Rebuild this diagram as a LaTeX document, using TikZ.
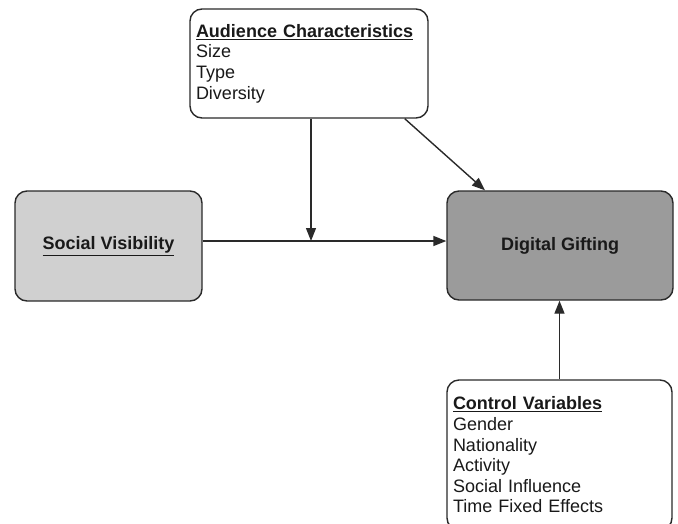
\documentclass[tikz,border=0pt]{standalone}
\usepackage{fontspec}
\setmainfont{Liberation Sans}
\usetikzlibrary{arrows.meta,calc}
\definecolor{edge}{HTML}{2A2A2A}
\definecolor{lightfill}{HTML}{D0D0D0}
\definecolor{darkfill}{HTML}{9B9B9B}
\begin{document}
\begin{tikzpicture}[x=1pt,y=-1pt,
  box/.style={draw=edge, line width=1.4pt, rounded corners=12pt, inner sep=0pt,
    font=\fontsize{18}{20.6}\selectfont, text=black!90},
  listbox/.style={box, fill=white, align=left},
  conn/.style={draw=edge, line width=1.4pt, -{Triangle[length=13pt,width=10pt]}}]
  \useasboundingbox (0,0) rectangle (678,523);

  % main constructs
  \node[box, fill=lightfill, minimum width=187pt, minimum height=110pt]
    (sv) at (108.5,246) {\textbf{\underline{Social Visibility}}};
  \node[box, fill=darkfill, minimum width=226pt, minimum height=109pt]
    (dg) at (560,245.5) {\textbf{Digital Gifting}};

  % moderator and controls
  \node[listbox, minimum width=238pt, minimum height=109pt, text width=226pt]
    (aud) at (309,63.5) {\textbf{\underline{Audience Characteristics}}\\Size\\Type\\Diversity};
  \node[listbox, minimum width=225pt, minimum height=150pt, text width=213pt]
    (cv) at (559.5,455) {\textbf{\underline{Control Variables}}\\Gender\\Nationality\\Activity\\Social Influence\\Time Fixed Effects};

  % paths
  \coordinate (m) at (311,241);
  \draw[conn] (sv.east |- m) -- (dg.west |- m);
  \draw[conn] (aud.south -| m) -- (m);
  \draw[conn] ($(aud.south east)!0.1!(aud.south west)$) -- ($(dg.north west)!0.17!(dg.north east)$);
  \draw[conn] (cv.north) -- (cv.north |- dg.south);
\end{tikzpicture}
\end{document}
